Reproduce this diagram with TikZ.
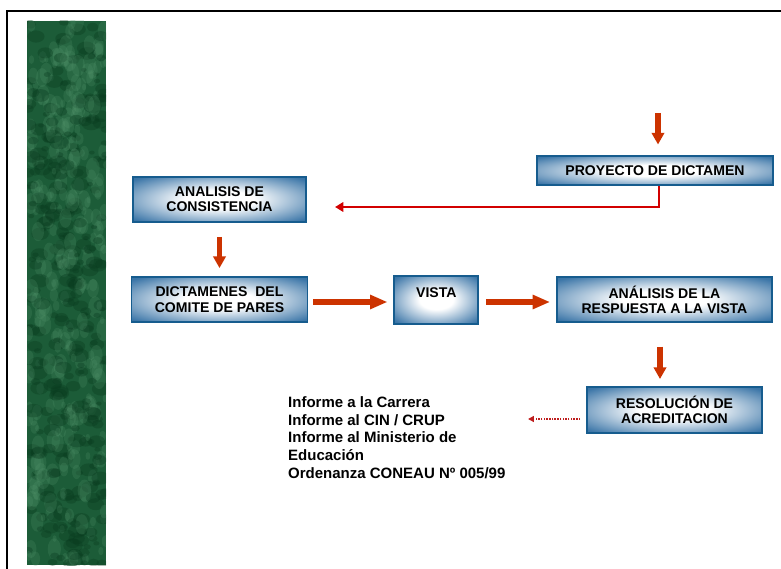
\documentclass[tikz,border=0pt]{standalone}
\usepackage{fontspec}
\setmainfont{Liberation Sans}
\usetikzlibrary{arrows.meta,positioning}
\definecolor{boxedge}{RGB}{22,92,142}
\definecolor{boxfill}{RGB}{60,118,168}
\definecolor{arrowred}{RGB}{204,51,0}
\definecolor{linered}{RGB}{210,0,0}
\definecolor{dotred}{RGB}{190,30,30}
\definecolor{stripgreen}{RGB}{28,92,56}
\definecolor{stripdark}{RGB}{8,58,30}
\definecolor{striplight}{RGB}{85,150,110}
% white glow in the middle of the boxes
\pgfdeclareradialshading{boxglow}{\pgfpointorigin}{
    color(0bp)=(white); color(10bp)=(white); color(33bp)=(boxfill); color(50bp)=(boxedge); color(75bp)=(boxedge)}
\tikzset{
    %Define style for the stage boxes
    stage/.style={
           rectangle,
           draw=boxedge, line width=1.6pt,
           shading=boxglow,
           font=\bfseries\fontsize{12}{13}\selectfont,
           align=center,
           inner sep=0pt,
           },
    infotext/.style={
           align=left,
           inner sep=0pt,
           font=\bfseries\fontsize{12.8}{15.3}\selectfont,
           },
    % Define arrow styles
    downpil/.style={
           -{Triangle[width=10.5pt,length=10pt]},
           line width=5pt, draw=arrowred,
           },
    sidepil/.style={
           -{Triangle[width=11.5pt,length=15pt]},
           line width=5.5pt, draw=arrowred,
           },
    backpil/.style={
           -{Triangle[width=8pt,length=7pt]},
           line width=2.5pt, draw=linered,
           },
    dotpil/.style={
           -{Triangle[width=5pt,length=5pt]},
           line width=1.3pt, draw=dotred, densely dotted,
           },
}

\begin{document}
\begin{tikzpicture}[x=0.03cm,y=-0.03cm]
\useasboundingbox (0,0) rectangle (781,569);
% frame and green strip
\draw[line width=1.6pt] (7,569) -- (7,11) -- (781,11);
\fill[stripgreen] (27,21) rectangle (106,565);
\begin{scope}
\clip (27,21) rectangle (106,565);
\pgfmathsetseed{7}
\foreach \i in {1,...,320}{
    \pgfmathsetmacro\px{27+79*rnd}
    \pgfmathsetmacro\py{21+544*rnd}
    \pgfmathsetmacro\pr{2+5*rnd}
    \fill[striplight, opacity=0.22] (\px,\py) ellipse ({\pr} and {1.6*\pr});
    \pgfmathsetmacro\qx{27+79*rnd}
    \pgfmathsetmacro\qy{21+544*rnd}
    \fill[stripdark, opacity=0.35] (\qx,\qy) ellipse ({1.4*\pr} and {\pr});
}
\end{scope}

% stages
\node[stage, minimum width=7.08cm, minimum height=0.87cm] (proyecto) at (655,170.5) {PROYECTO DE DICTAMEN};
\node[stage, minimum width=5.19cm, minimum height=1.35cm] (consist) at (219.5,199.5) {ANALISIS DE\\CONSISTENCIA};
\node[stage, minimum width=5.28cm, minimum height=1.35cm, below=1.6cm of consist] (dictamenes) {DICTAMENES\ \ DEL\\COMITE DE PARES};
\node[stage, minimum width=2.52cm, minimum height=1.44cm, right=2.55cm of dictamenes] (vista) {VISTA\\\mbox{}};
\node[stage, minimum width=6.45cm, minimum height=1.35cm, right=2.3cm of vista] (respuesta) {ANÁLISIS DE LA\\RESPUESTA A LA VISTA};
\node[stage, minimum width=5.25cm, minimum height=1.38cm] (resolucion) at (674.5,410) {RESOLUCIÓN DE\\ACREDITACION};
\node[infotext, anchor=north west] (informe) at (288,396) {Informe a la Carrera\\Informe al CIN / CRUP\\Informe al Ministerio de\\Educación\\Ordenanza CONEAU Nº 005/99};

% connectors
\coordinate (ptop) at (658,113);
\coordinate (bend) at (659,207);
\coordinate (rx) at (660,340);
\coordinate (inftip) at (528,419);
\draw[downpil, shorten >=9pt] (ptop) -- (ptop |- proyecto.north);
\draw[backpil, shorten >=24pt] (bend |- proyecto.south) -- (bend) -- (bend -| consist.east);
\draw[downpil, shorten <=12pt, shorten >=7pt] (consist.south) -- (dictamenes.north);
\draw[sidepil, shorten <=4pt, shorten >=5pt] (dictamenes.east |- 0,302) -- (vista.west |- 0,302);
\draw[sidepil, shorten <=6pt, shorten >=5pt] (vista.east |- 0,302) -- (respuesta.west |- 0,302);
\draw[downpil, shorten <=20pt, shorten >=6pt] (rx |- respuesta.south) -- (rx |- resolucion.north);
\draw[dotpil, shorten <=5pt] (resolucion.west |- inftip) -- (inftip);
\end{tikzpicture}
\end{document}
